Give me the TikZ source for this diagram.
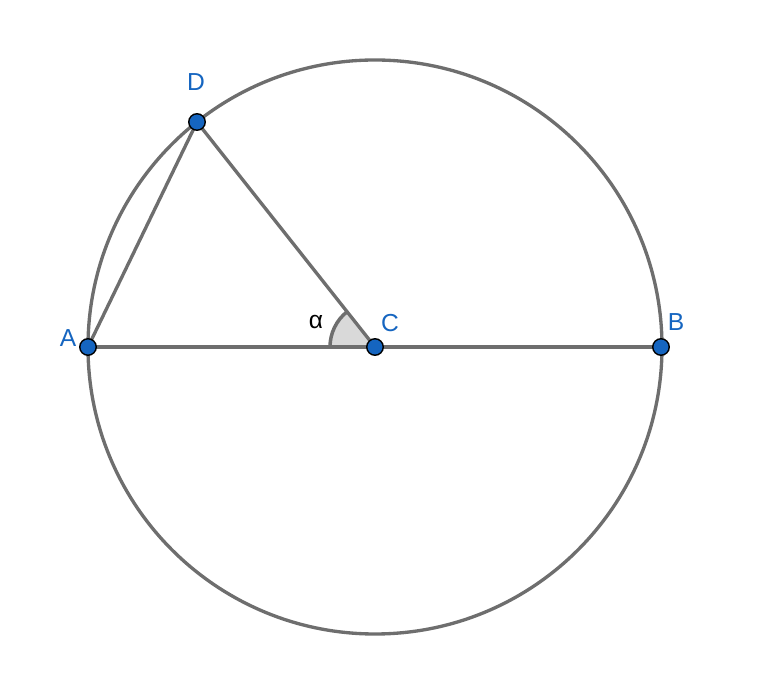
\documentclass[tikz,border=0pt]{standalone}
\usepackage{fontspec}
\setmainfont{Liberation Sans}
\usetikzlibrary{positioning,calc}
\definecolor{ptblue}{RGB}{21,101,192}
\definecolor{lngray}{RGB}{110,110,110}
\tikzset{
  pt/.style={circle,draw=black,fill=ptblue,line width=0.8pt,minimum size=0.33cm,inner sep=0pt},
  lbl/.style={text=ptblue,font=\fontsize{14}{16}\selectfont,inner sep=0pt},
  seg/.style={lngray,line width=1.9pt}
}

\begin{document}
\begin{tikzpicture}[x=0.02cm,y=0.02cm]
\useasboundingbox (0,0) rectangle (768,690);

\coordinate (pA) at (88,343);
\coordinate (pB) at (661,343);
\coordinate (pC) at (375,343);
\coordinate (pD) at (197,568);

% angle at C
\fill[gray!30] (pC) -- ++(180:45) arc (180:128.35:45) -- cycle;
\draw[lngray,line width=2pt] ($(pC)+(180:45)$) arc (180:128.35:45);

\draw[seg] (pC) circle (287);
\draw[seg] (pA) -- (pB);
\draw[seg] (pA) -- (pD) -- (pC);

\node[pt] (A) at (pA) {};
\node[pt] (B) at (pB) {};
\node[pt] (C) at (pC) {};
\node[pt] (D) at (pD) {};

\node[lbl] (lA) at (68,352) {A};
\node[lbl] (lB) at (676,368) {B};
\node[lbl] (lC) at (390,367) {C};
\node[lbl] (lD) at (196,608) {D};
\node[font=\fontsize{14}{16}\selectfont,inner sep=0pt] (alpha) at (316,368) {α};
\end{tikzpicture}
\end{document}
